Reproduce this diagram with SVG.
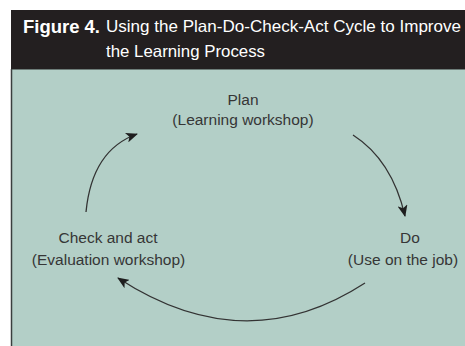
<svg xmlns="http://www.w3.org/2000/svg" width="465" height="346" viewBox="0 0 465 346">
  <style>
    .lbl { font-family: "Liberation Sans", Arial, sans-serif; font-size: 15.5px; fill: #363636; text-anchor: middle; }
    .hd { font-family: "Liberation Sans", Arial, sans-serif; fill: #ffffff; }
    .conn { fill: none; stroke: #333333; stroke-width: 1.3; }
  </style>
  <defs>
    <marker id="ah" viewBox="0 0 12 10" refX="11" refY="5" markerWidth="12" markerHeight="10" markerUnits="userSpaceOnUse" orient="auto">
      <path d="M0,0 L12,5 L0,10 L3,5 Z" fill="#1e1e1e"/>
    </marker>
  </defs>
  <rect x="0" y="0" width="465" height="346" fill="#ffffff"/>
  <g id="header">
    <rect x="11" y="10" width="454" height="60" fill="#231f20"/>
    <text class="hd" x="23" y="33" font-size="18" font-weight="bold" textLength="77" lengthAdjust="spacingAndGlyphs">Figure 4.</text>
    <text class="hd" x="106" y="32" font-size="16.5" textLength="355" lengthAdjust="spacingAndGlyphs">Using the Plan-Do-Check-Act Cycle to Improve</text>
    <text class="hd" x="106" y="57" font-size="16.5" textLength="159" lengthAdjust="spacingAndGlyphs">the Learning Process</text>
  </g>
  <rect x="11" y="69" width="454" height="277" fill="#b3cfc7"/>
  <line x1="11" y1="69.5" x2="465" y2="69.5" stroke="#6d7c78" stroke-width="1"/>
  <line x1="11.5" y1="69" x2="11.5" y2="346" stroke="#3a3f3e" stroke-width="1.5"/>
  <g id="plan">
    <text class="lbl" x="243" y="105">Plan</text>
    <text class="lbl" x="243" y="125">(Learning workshop)</text>
  </g>
  <g id="do">
    <text class="lbl" x="410" y="243">Do</text>
    <text class="lbl" x="403" y="265">(Use on the job)</text>
  </g>
  <g id="check">
    <text class="lbl" x="108" y="243">Check and act</text>
    <text class="lbl" x="108.5" y="265">(Evaluation workshop)</text>
  </g>
  <g id="connectors">
    <path class="conn" d="M353,135 Q392,160 405,216" marker-end="url(#ah)"/>
    <path class="conn" d="M365,283 Q245,361 118,278" marker-end="url(#ah)"/>
    <path class="conn" d="M86,212 Q92,150 137,134" marker-end="url(#ah)"/>
  </g>
</svg>
